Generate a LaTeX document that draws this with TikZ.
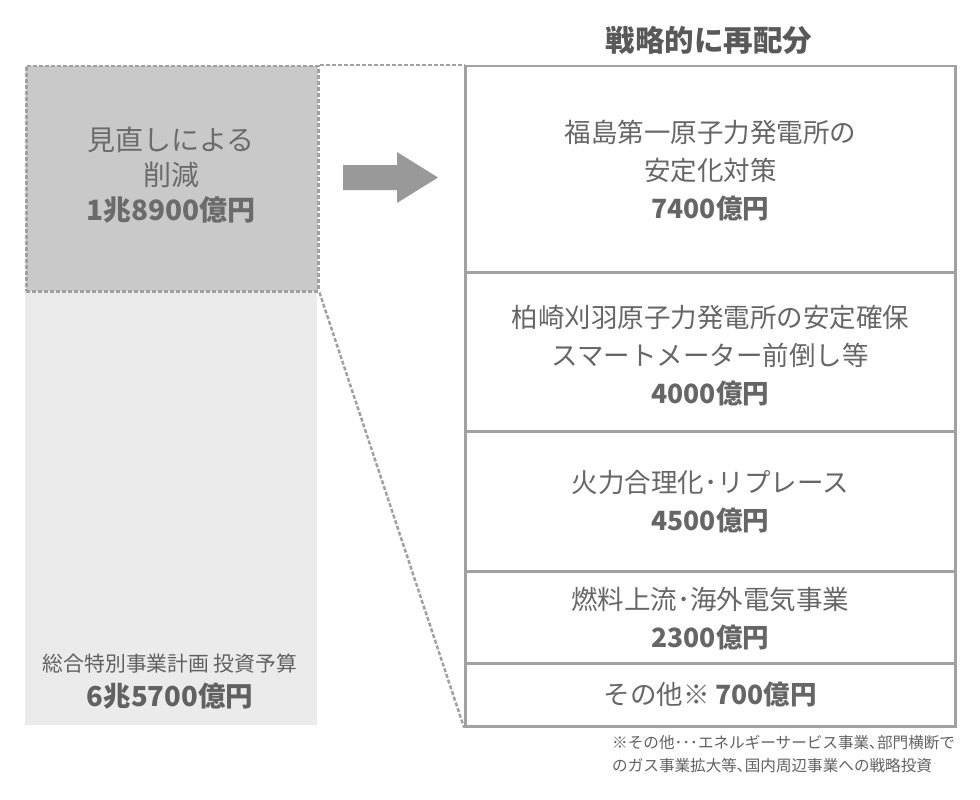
\documentclass[tikz,border=0pt]{standalone}
\usepackage{fontspec}
\setmainfont{Noto Sans CJK JP}
\begin{document}
\begin{tikzpicture}[x=1pt,y=-1pt,
  txt/.style={text=black!60, align=center, inner sep=0pt},
  rbox/.style={draw=black!37, line width=2.5pt, minimum width=490pt, inner sep=0pt, anchor=north west, txt},
  dline/.style={draw=black!37, line width=2.5pt, dash pattern=on 4pt off 2pt},
  rfont/.style={font=\fontsize{26.5}{38}\selectfont},
]
\useasboundingbox (0,0) rectangle (980,800);
% title
\node[txt, font=\bfseries\fontsize{29.5}{32}\selectfont, text=black!65] (title) at (709,40) {戦略的に再配分};
% left boxes
\node[txt, anchor=north west, minimum width=292pt, minimum height=435pt, fill=black!8] (total) at (25,290) {};
\node[txt, anchor=north west, minimum width=292pt, minimum height=225pt, fill=black!21, dline] (cut) at (25,65) {};
\node[txt, font=\fontsize{28}{35}\selectfont, text=black!58] (cuttext) at (171,175) {見直しによる\\削減\\\textbf{1兆8900億円}};
\node[txt, font=\fontsize{20.8}{35}\selectfont, text=black!62] (totaltext) at (170,682) {総合特別事業計画 投資予算\\{\bfseries\fontsize{27.5}{35}\selectfont 6兆5700億円}};
% right boxes
\node[rbox, minimum height=206pt] (b1) at (464,65) {};
\node[rbox, minimum height=159pt] (b2) at (464,271) {};
\node[rbox, minimum height=140pt] (b3) at (464,430) {};
\node[rbox, minimum height=92pt] (b4) at (464,570) {};
\node[rbox, minimum height=63pt] (b5) at (464,662) {};
\node[txt, rfont] (t1) at ([yshift=-1]b1.center) {福島第一原子力発電所の\\安定化対策\\\textbf{7400億円}};
\node[txt, rfont] (t2) at ([yshift=-4]b2.center) {柏崎刈羽原子力発電所の安定確保\\スマートメーター前倒し等\\\textbf{4000億円}};
\node[txt, rfont] (t3) at (b3.center) {火力合理化･リプレース\\\textbf{4500億円}};
\node[txt, rfont] (t4) at ([yshift=-1]b4.center) {燃料上流･海外電気事業\\\textbf{2300億円}};
\node[txt, rfont] (t5) at (b5.center) {その他※ \textbf{700億円}};
% dashed connectors
\draw[dline] (cut.north east) -- (b1.north west);
\draw[dline] (cut.south east) -- (b5.south west);
% arrow
\fill[black!40] (343,165) -- (397,165) -- (397,152) -- (438,177.5) -- (397,203) -- (397,190) -- (343,190) -- cycle;
% footnote
\node[txt, align=left, anchor=north west, font=\fontsize{15.6}{23}\selectfont, text=black!62] (note) at (612,735) {※その他･･･エネルギーサービス事業､部門横断で\\のガス事業拡大等､国内周辺事業への戦略投資};
\end{tikzpicture}
\end{document}
